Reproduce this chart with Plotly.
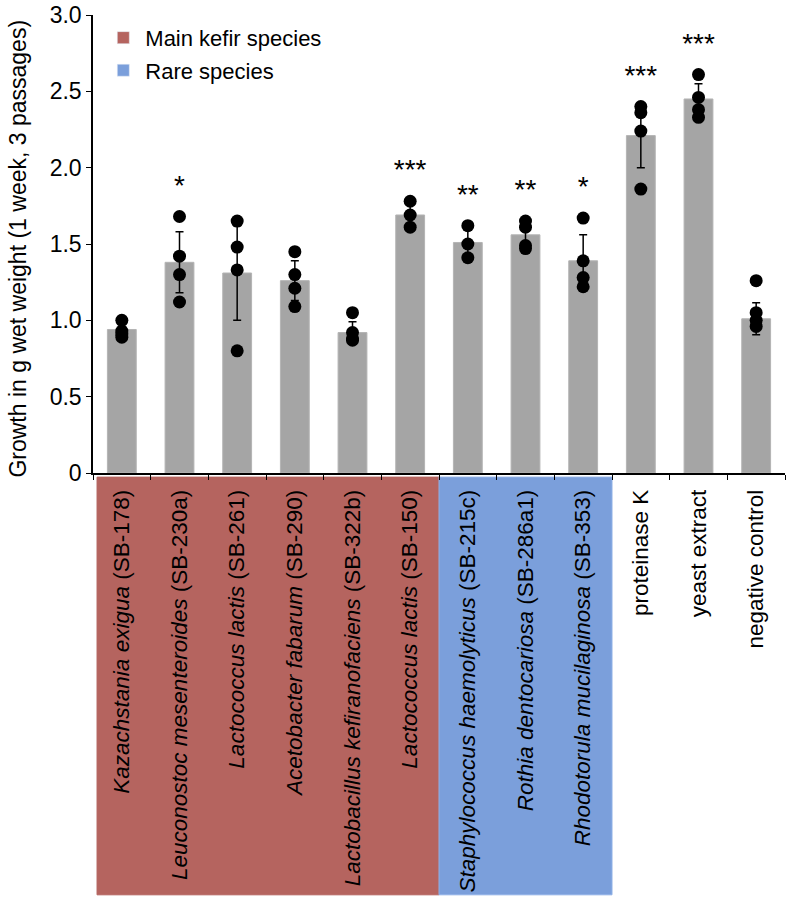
import plotly.graph_objects as go

# groups on the x axis
species = ["Kazachstania exigua", "Leuconostoc mesenteroides", "Lactococcus lactis",
           "Acetobacter fabarum", "Lactobacillus kefiranofaciens", "Lactococcus lactis",
           "Staphylococcus haemolyticus", "Rothia dentocariosa", "Rhodotorula mucilaginosa"]
strains = ["SB-178", "SB-230a", "SB-261", "SB-290", "SB-322b", "SB-150",
           "SB-215c", "SB-286a1", "SB-353"]
controls = ["proteinase K", "yeast extract", "negative control"]

# mean growth, SD and individual replicates (g wet weight)
means = [0.94, 1.38, 1.31, 1.26, 0.92, 1.69, 1.51, 1.56, 1.39, 2.21, 2.45, 1.01]
sd = [0.05, 0.20, 0.31, 0.13, 0.07, 0.07, 0.08, 0.08, 0.17, 0.21, 0.10, 0.105]
replicates = [
    [1.00, 0.93, 0.91, 0.89],
    [1.68, 1.42, 1.30, 1.12],
    [1.65, 1.48, 1.33, 0.80],
    [1.45, 1.30, 1.21, 1.09],
    [1.05, 0.92, 0.88, 0.87],
    [1.78, 1.69, 1.61],
    [1.62, 1.50, 1.41],
    [1.65, 1.61, 1.49, 1.47],
    [1.67, 1.39, 1.28, 1.22],
    [2.40, 2.36, 2.24, 1.86],
    [2.61, 2.46, 2.38, 2.33],
    [1.26, 1.05, 1.00, 0.96],
]
significance = ["", "*", "", "", "", "***", "**", "**", "*", "***", "***", ""]

y_ticks = [0, 0.5, 1.0, 1.5, 2.0, 2.5, 3.0]
y_ticktext = ["0", "0.5", "1.0", "1.5", "2.0", "2.5", "3.0"]

RED = "#B5645F"
BLUE = "#7B9FDB"
FONT = "Arial, Liberation Sans, sans-serif"

categories = strains + controls
ticktext = [f"<i>{s}</i> ({k})" for s, k in zip(species, strains)] + controls

fig = go.Figure()

fig.add_trace(go.Bar(
    x=categories, y=means, width=0.5,
    marker=dict(color="#A5A5A5", line=dict(color="#B4B4B4", width=1)),
    error_y=dict(type="data", array=sd, color="black", thickness=1.5, width=4),
    showlegend=False, hoverinfo="skip",
))

# replicate dots
px_, py_ = [], []
for cat, reps in zip(categories, replicates):
    for v in reps:
        px_.append(cat)
        py_.append(v)
fig.add_trace(go.Scatter(
    x=px_, y=py_, mode="markers",
    marker=dict(color="black", size=13),
    showlegend=False, hoverinfo="skip",
))

# significance stars above the highest replicate
fig.add_trace(go.Scatter(
    x=categories, y=[max(r) + 0.19 for r in replicates],
    mode="text", text=significance, textposition="middle center",
    textfont=dict(family=FONT, size=28, color="black"),
    showlegend=False, hoverinfo="skip",
))

# legend entries
fig.add_trace(go.Bar(x=[None], y=[None], name="Main kefir species",
                     marker=dict(color=RED), legendgroup="a"))
fig.add_trace(go.Bar(x=[None], y=[None], name="Rare species",
                     marker=dict(color=BLUE), legendgroup="b"))

# coloured label boxes under the axis
fig.add_shape(type="rect", xref="x", yref="paper", x0=-0.43, x1=5.5, y0=-0.921, y1=-0.009,
              fillcolor=RED, line=dict(color=RED, width=1), layer="below")
fig.add_shape(type="rect", xref="x", yref="paper", x0=5.5, x1=8.5, y0=-0.921, y1=-0.009,
              fillcolor=BLUE, line=dict(color="#8FB0E6", width=1), layer="below")

# y axis title
fig.add_annotation(text="Growth in g wet weight (1 week, 3 passages)",
                   xref="paper", yref="paper", x=-0.109, y=0.489,
                   xanchor="center", yanchor="middle", textangle=-90,
                   showarrow=False, font=dict(size=23))

fig.update_layout(
    width=800, height=903,
    margin=dict(l=93, r=15, t=15, b=430),
    plot_bgcolor="white", paper_bgcolor="white",
    font=dict(family=FONT, size=22, color="black"),
    bargap=0.5,
    legend=dict(x=0.012, y=0.996, xanchor="left", yanchor="top", itemwidth=34,
                font=dict(size=22), tracegroupgap=1, bgcolor="rgba(0,0,0,0)"),
)
fig.update_xaxes(
    type="category", categoryorder="array", categoryarray=categories,
    tickvals=categories, ticktext=ticktext, tickangle=-90,
    tickfont=dict(size=22.5), range=[-0.5, 11.5], ticklabelstandoff=6,
    showline=True, linecolor="black", linewidth=1.5,
    ticks="outside", tickson="boundaries", ticklen=5, tickcolor="black",
    showgrid=False, automargin=False,
)
fig.update_yaxes(
    range=[0, 3], tickvals=y_ticks, ticktext=y_ticktext,
    tickfont=dict(size=23), ticklabeloverflow="allow",
    showline=True, linecolor="black", linewidth=1.5,
    ticks="outside", ticklen=5, tickcolor="black",
    showgrid=False, zeroline=False, automargin=False,
)

# drop the browser's default page margin so the figure sits at the window corner
fig.write_html("out.html", config={"displayModeBar": False},
               post_script="document.body.style.margin = '0';")
